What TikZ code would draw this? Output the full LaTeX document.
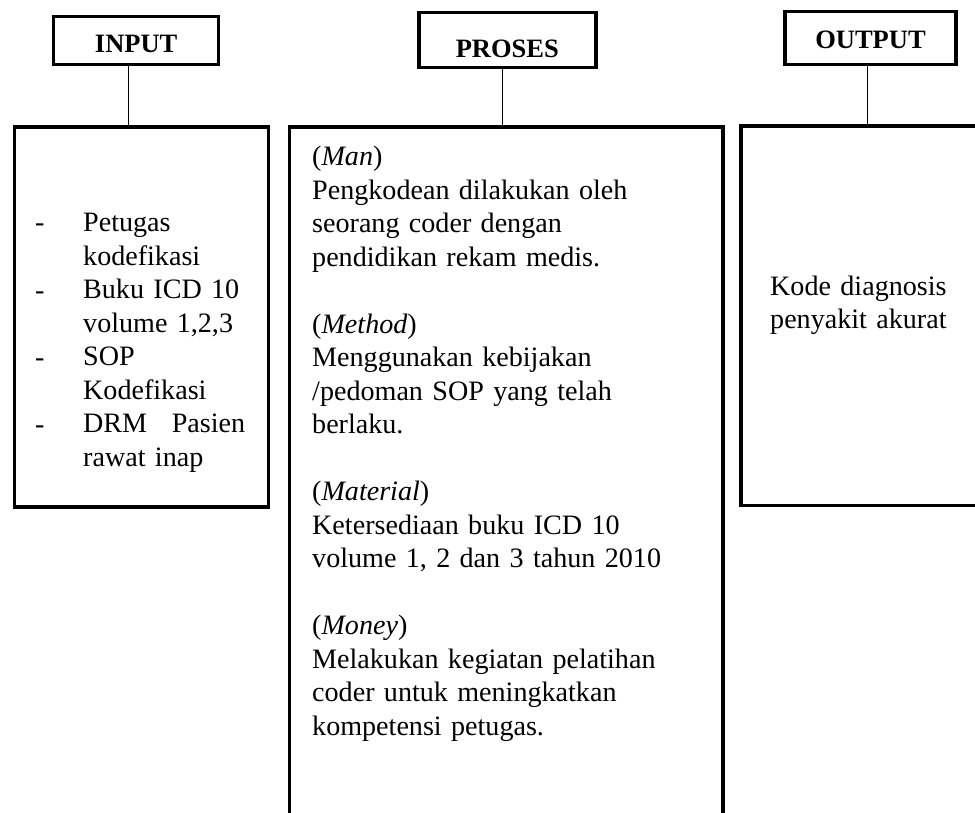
\documentclass[tikz,border=0pt]{standalone}
\usepackage{fontspec}
\setmainfont{Liberation Serif}
\usepackage{tikz}
\usetikzlibrary{arrows.meta}

\begin{document}
\begin{tikzpicture}[x=1pt,y=-1pt]
				\useasboundingbox (0,0) rectangle (975,813);
				\clip (0,0) rectangle (975,813);
				% judul
				\begin{scope}[every node/.style = {rectangle, draw, line width=3.4pt, inner sep=0pt,
					text depth=0pt, font = \fontsize{26.5}{30}\selectfont\bfseries}]
					\node[minimum width=165pt, minimum height=48pt, text height=25pt] (I) at (136.2,40.5) {INPUT};
					\node[minimum width=177pt, minimum height=55.5pt, text height=36pt] (P) at (507.3,40) {PROSES};
					\node[minimum width=171pt, minimum height=53.4pt, text height=20.6pt] (O) at (870.5,38) {OUTPUT};
				\end{scope}
				% kotak isi
				\begin{scope}[every node/.style = {rectangle, draw, line width=3.4pt, inner sep=0pt}]
					\node[minimum width=253.6pt, minimum height=380pt] (BI) at (141.5,317) {};
					\node[minimum width=433.5pt, minimum height=773pt] (BP) at (506.3,513.5) {};
					\node[minimum width=259.2pt, minimum height=379.5pt] (BO) at (870.4,315.8) {};
				\end{scope}
				\begin{scope}[every node/.style = {inner sep=0pt, anchor=base west, align=left,
					font = \fontsize{28.1}{33.5}\selectfont}]
					\foreach \y in {232,299,366,433}
						\node (d\y) at (35,\y) {-};
					\node[text width=162pt] (TI) at (83,232) {Petugas\\ kodefikasi\\ Buku ICD 10\\
						volume 1,2,3\\ SOP\\ Kodefikasi\\ DRM\hfill Pasien\\ rawat inap};
					\node[text width=420pt] (TP) at (312,166) {(\textit{Man})\\
						Pengkodean dilakukan oleh\\ seorang coder dengan\\ pendidikan rekam medis.\\[33.5pt]
						(\textit{Method})\\ Menggunakan kebijakan\\ /pedoman SOP yang telah\\ berlaku.\\[33.5pt]
						(\textit{Material})\\ Ketersediaan buku ICD 10\\ volume 1, 2 dan 3 tahun 2010\\[33.5pt]
						(\textit{Money})\\ Melakukan kegiatan pelatihan\\ coder untuk meningkatkan\\
						kompetensi petugas.};
					\node[text width=200pt] (TO) at (770,295) {Kode diagnosis\\ penyakit akurat};
				\end{scope}
				\begin{scope}[every edge/.style={draw=black, line width=1.2pt}]
					\path [-] ([xshift=-8pt]I.south) edge ([xshift=-8pt]I.south |- BI.north);
					\path [-] ([xshift=-4.6pt]P.south) edge ([xshift=-4.6pt]P.south |- BP.north);
					\path [-] ([xshift=-3.2pt]O.south) edge ([xshift=-3.2pt]O.south |- BO.north);
				\end{scope}
			\end{tikzpicture}
\end{document}
